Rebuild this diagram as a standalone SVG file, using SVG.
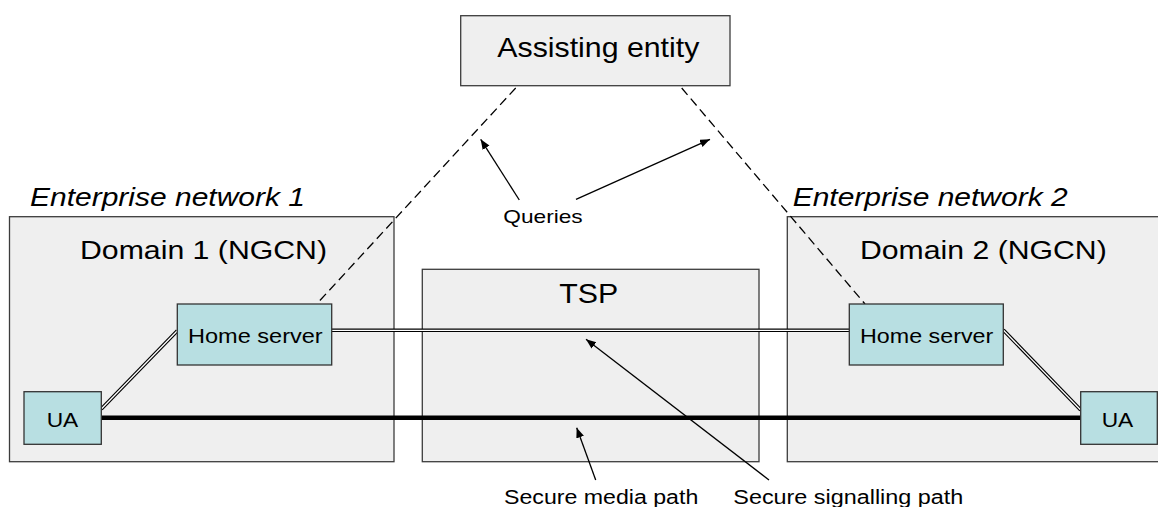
<svg xmlns="http://www.w3.org/2000/svg" width="1158" height="507" viewBox="0 0 1158 507">
<style>
.bg{fill:#ffffff}
.box{fill:#efefef;stroke:#3c3c3c;stroke-width:1.3}
.node{fill:#b8dfe2;stroke:#333333;stroke-width:1.3}
text{font-family:"Liberation Sans",Arial,sans-serif;fill:#000}
.it{font-style:italic}
.dash{fill:none;stroke:#000;stroke-width:1.3;stroke-dasharray:9 5}
.dblo{fill:none;stroke:#000;stroke-width:3.6}
.dbli{fill:none;stroke:#fff;stroke-width:1.3}
.thick{fill:none;stroke:#000;stroke-width:4.5}
.arr{fill:none;stroke:#000;stroke-width:1.3;marker-end:url(#ah)}
</style>
<defs>
<marker id="ah" markerUnits="userSpaceOnUse" markerWidth="11" markerHeight="9" refX="10" refY="4" orient="auto">
<path d="M0,0 L10,4 L0,8 z" fill="#000"/>
</marker>
</defs>
<rect class="bg" x="0" y="0" width="1158" height="507"/>
<g id="enterprise1">
<rect class="box" x="9.5" y="216.7" width="384.5" height="245"/>
<text class="it" x="30" y="206" font-size="26" textLength="275" lengthAdjust="spacingAndGlyphs">Enterprise network 1</text>
<text x="80" y="259" font-size="25" textLength="247" lengthAdjust="spacingAndGlyphs">Domain 1 (NGCN)</text>
</g>
<g id="enterprise2">
<rect class="box" x="787.3" y="216.7" width="380" height="245"/>
<text class="it" x="792.7" y="206" font-size="26" textLength="275" lengthAdjust="spacingAndGlyphs">Enterprise network 2</text>
<text x="860" y="259" font-size="25" textLength="246.7" lengthAdjust="spacingAndGlyphs">Domain 2 (NGCN)</text>
</g>
<g id="tsp">
<rect class="box" x="422.3" y="269.3" width="336.7" height="192.4"/>
<text x="559.3" y="302.7" font-size="27" textLength="59" lengthAdjust="spacingAndGlyphs">TSP</text>
</g>
<g id="assisting">
<rect class="box" x="460.7" y="15.7" width="269.3" height="70"/>
<text x="497.3" y="56.7" font-size="28" textLength="202" lengthAdjust="spacingAndGlyphs">Assisting entity</text>
</g>
<g id="connectors">
<path class="dash" d="M515.7,88 L316.7,304"/>
<path class="dash" d="M681.7,88 L865,304"/>
<path class="dblo" d="M101.3,409 L177.3,330.7"/>
<path class="dbli" d="M101.3,409 L177.3,330.7"/>
<path class="dblo" d="M331.7,330.3 L849.3,330.3"/>
<path class="dbli" d="M331.7,330.3 L849.3,330.3"/>
<path class="dblo" d="M1003.3,330 L1080.7,410"/>
<path class="dbli" d="M1003.3,330 L1080.7,410"/>
<path class="thick" d="M101.3,417.7 L1080.7,417.7"/>
<path class="arr" d="M519.3,200 L480.7,139.3"/>
<path class="arr" d="M576,199.3 L710,139.3"/>
<path class="arr" d="M595.7,480 L576.7,427.7"/>
<path class="arr" d="M769,480 L586,339.3"/>
</g>
<g id="homeserver1">
<rect class="node" x="177.3" y="304" width="154.4" height="61"/>
<text x="188" y="343" font-size="20" textLength="134.7" lengthAdjust="spacingAndGlyphs">Home server</text>
</g>
<g id="homeserver2">
<rect class="node" x="849.3" y="304" width="154" height="61"/>
<text x="860" y="343" font-size="20" textLength="133.3" lengthAdjust="spacingAndGlyphs">Home server</text>
</g>
<g id="ua1">
<rect class="node" x="24" y="391.7" width="77.3" height="52.6"/>
<text x="46.7" y="427" font-size="20" textLength="31.6" lengthAdjust="spacingAndGlyphs">UA</text>
</g>
<g id="ua2">
<rect class="node" x="1080.7" y="391.7" width="76.6" height="52.6"/>
<text x="1101.7" y="426.7" font-size="20" textLength="31.6" lengthAdjust="spacingAndGlyphs">UA</text>
</g>
<g id="labels">
<text x="503.3" y="223.3" font-size="18.5" textLength="79.4" lengthAdjust="spacingAndGlyphs">Queries</text>
<text x="504" y="504" font-size="20" textLength="194.3" lengthAdjust="spacingAndGlyphs">Secure media path</text>
<text x="733.3" y="504" font-size="20" textLength="230" lengthAdjust="spacingAndGlyphs">Secure signalling path</text>
</g>
</svg>
